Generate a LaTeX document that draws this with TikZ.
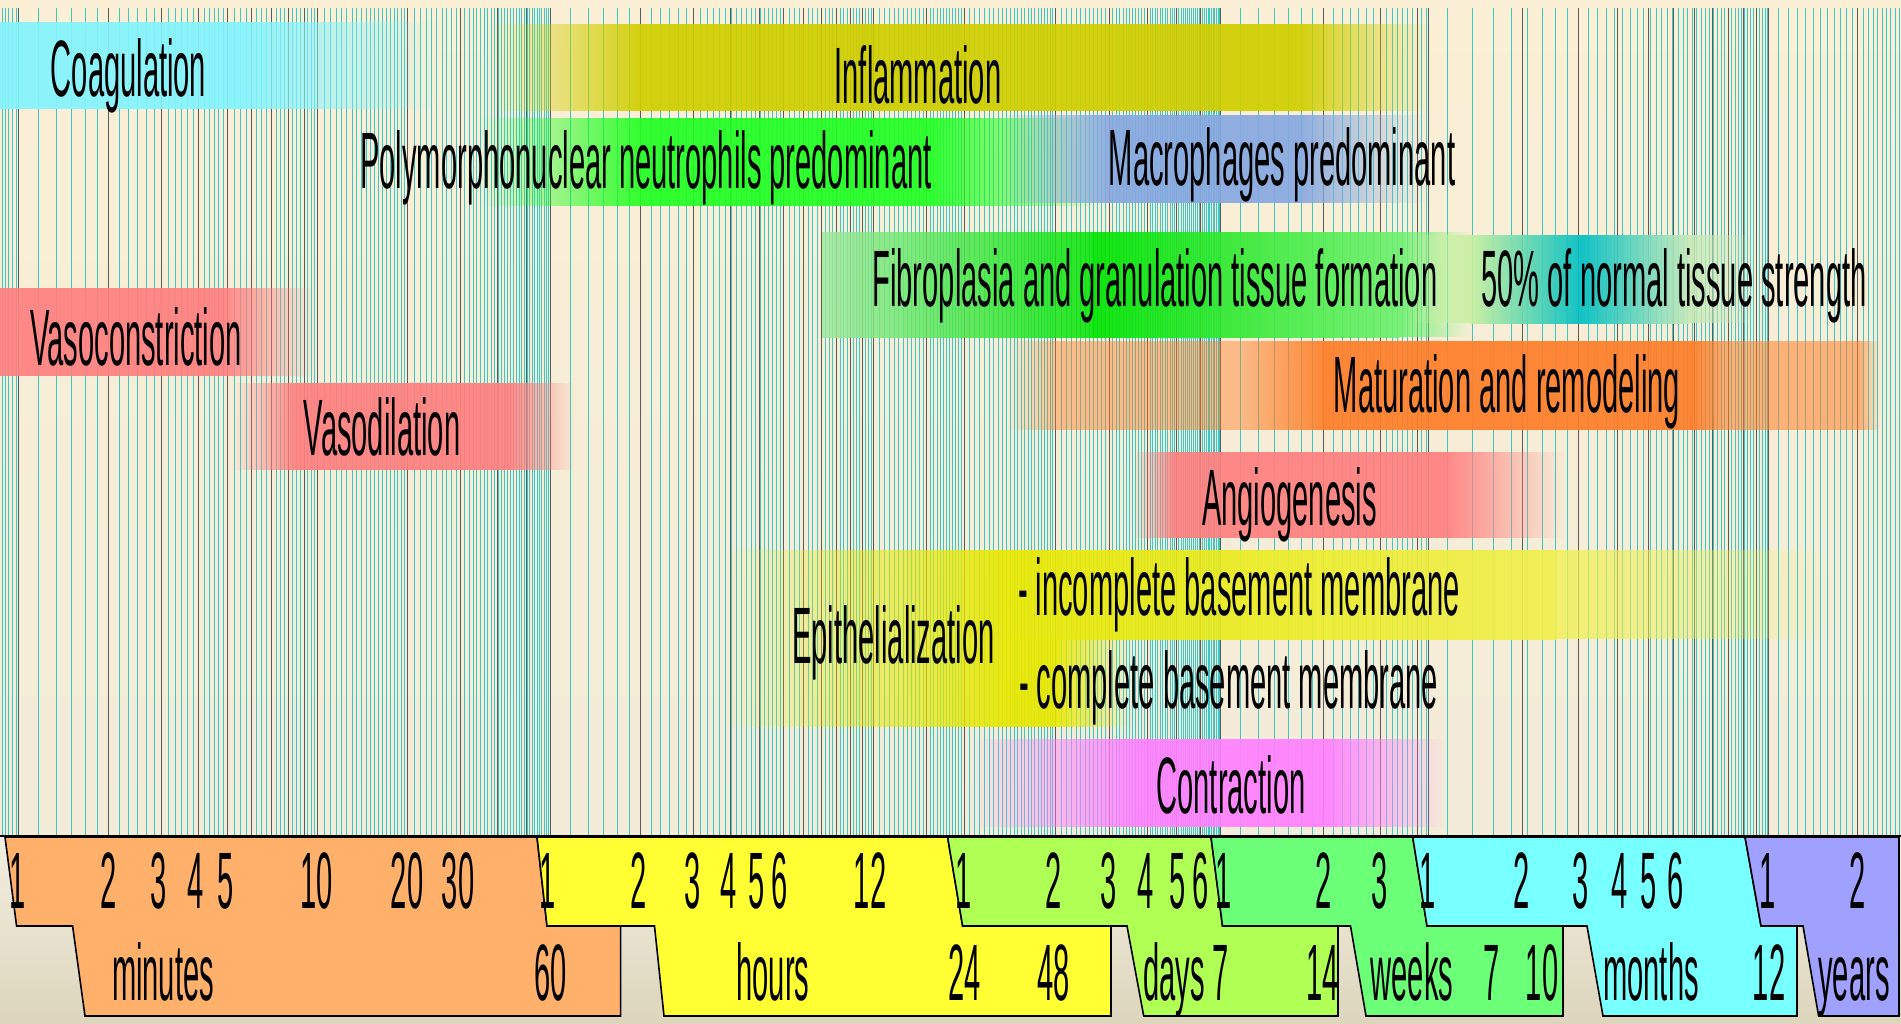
\documentclass[tikz,border=0pt]{standalone}
\usepackage{fontspec}
\setmainfont{Liberation Sans}
\usepackage{graphicx}
\usetikzlibrary{fadings}

\definecolor{bgTopA}{HTML}{FBEFD5}
\definecolor{bgTopB}{HTML}{F3ECD9}
\definecolor{bgBotA}{HTML}{F2EEE1}
\definecolor{bgBotB}{HTML}{DDD5BC}
\definecolor{gridCyan}{HTML}{3CC6C6}
\definecolor{gridDark}{HTML}{5A5A5A}
\definecolor{cCoag}{HTML}{84F4FF}
\definecolor{cInfl}{HTML}{D0CE00}
\definecolor{cPMN}{HTML}{22FF22}
\definecolor{cMac}{HTML}{86A8E0}
\definecolor{cFib}{HTML}{00E400}
\definecolor{cFibA}{HTML}{A0E8A0}
\definecolor{cFibB}{HTML}{70F070}
\definecolor{cFa}{HTML}{C8F0A0}
\definecolor{cFb}{HTML}{00BFC4}
\definecolor{cFc}{HTML}{C8EAB8}
\definecolor{cRed}{HTML}{FF8080}
\definecolor{cMat}{HTML}{FF7F2A}
\definecolor{cEpi}{HTML}{E8E800}
\definecolor{cEpiB}{HTML}{F0F050}
\definecolor{cCon}{HTML}{FF80FF}
\definecolor{uMin}{HTML}{FFB06A}
\definecolor{uHour}{HTML}{FFFF33}
\definecolor{uDay}{HTML}{B0FF55}
\definecolor{uWeek}{HTML}{6CFF78}
\definecolor{uMonth}{HTML}{78FFFF}
\definecolor{uYear}{HTML}{A0A0FF}

% linear fadings; a fitted fading maps the path onto its 25bp..75bp part
\pgfdeclarehorizontalshading{finshade}{100bp}{color(0bp)=(transparent!100); color(25bp)=(transparent!100); color(75bp)=(transparent!0); color(100bp)=(transparent!0)}
\pgfdeclarehorizontalshading{foutshade}{100bp}{color(0bp)=(transparent!0); color(25bp)=(transparent!0); color(75bp)=(transparent!100); color(100bp)=(transparent!100)}
\pgfdeclarefading{fin}{\pgfuseshading{finshade}}
\pgfdeclarefading{fout}{\pgfuseshading{foutshade}}

% x position from L = log10(time in minutes)
\pgfmathdeclarefunction{gx}{1}{%
  \begingroup
  \pgfmathsetmacro\Lv{#1}%
  \pgfmathparse{(\Lv<1.77815) ? (18.5+299.2*(\Lv)) : ((\Lv<3.15836) ? (550.5+299.6*(\Lv-1.77815)) : ((\Lv<4.00346) ? (964+304.1*(\Lv-3.15836)) : ((\Lv<4.30449) ? (1221+340.8*(\Lv-4.00346)) : ((\Lv<4.48058) ? (1323.6+320.3*(\Lv-4.30449)) : ((\Lv<4.64176) ? (1380+297.8*(\Lv-4.48058)) : ((\Lv<5.72096) ? (1428+315.05*(\Lv-4.64176)) : (1768+297.7*(\Lv-5.72096))))))))}%
  \pgfmathsmuggle\pgfmathresult
  \endgroup}

\newcommand\nt[1]{\scalebox{0.364}[1]{#1}}

\tikzset{
  lbl/.style={inner sep=0pt, outer sep=0pt, anchor=base, font=\fontsize{80}{96}\selectfont},
  cyanl/.style={draw=gridCyan, line width=0.55pt},
  darkl/.style={draw=gridDark, line width=1.0pt},
  bar/.style={fill opacity=0.92},
  unitshape/.style={draw=black, line width=1.6pt, line join=miter},
}

\newcommand\gline[2]{\pgfmathsetmacro\xv{gx(#1)}\draw[#2] (\xv,8) -- (\xv,836);}

\begin{document}
\begin{tikzpicture}[x=1pt,y=-1pt]
\useasboundingbox (0,0) rectangle (1901,1023);

% backgrounds
\shade[top color=bgTopA, bottom color=bgTopB] (0,0) rectangle (1901,836);
\shade[top color=bgBotA, bottom color=bgBotB] (0,836) rectangle (1901,1023);

% ---------- grid (log time scale) ----------
\foreach \xv in {2,5,8.3,12.4,16.6}{\draw[cyanl] (\xv,8) -- (\xv,836);}
\foreach \s in {70,80,...,290}{\gline{log10(\s)-1.77815}{cyanl}}
\foreach \s in {315,330,...,585}{\gline{log10(\s)-1.77815}{cyanl}}
\foreach \s in {630,660,...,1170}{\gline{log10(\s)-1.77815}{cyanl}}
\foreach \m in {21,...,59}{\gline{log10(\m)}{cyanl}}
\foreach \m in {70,80,...,350}{\gline{log10(\m)}{cyanl}}
\foreach \m in {375,390,...,705}{\gline{log10(\m)}{cyanl}}
\foreach \m in {750,780,...,1410}{\gline{log10(\m)}{cyanl}}
\foreach \h in {25,...,47}{\gline{log10(\h)+1.77815}{cyanl}}
\foreach \h in {50,52,...,166}{\gline{log10(\h)+1.77815}{cyanl}}
\foreach \d in {8,...,30}{\gline{log10(\d)+3.15836}{cyanl}}
\foreach \w in {5,...,52}{\gline{log10(\w)+4.00346}{cyanl}}
\foreach \mo in {13,...,34}{\gline{log10(\mo)+4.64176}{cyanl}}
% major lines
\foreach \m in {1,...,10,20,30,40,50}{\gline{log10(\m)}{darkl}}
\foreach \h in {1,...,12,18}{\gline{log10(\h)+1.77815}{darkl}}
\foreach \d in {1,...,7}{\gline{log10(\d)+3.15836}{darkl}}
\foreach \w in {2,3,4}{\gline{log10(\w)+4.00346}{darkl}}
\foreach \mo in {1,...,12}{\gline{log10(\mo)+4.64176}{darkl}}
\gline{0.30103+5.72096}{darkl}

% ---------- phase bars ----------
% Coagulation
\fill[cCoag, bar] (0,22) rectangle (245,109);
\fill[cCoag, bar, path fading=fout] (245,22) rectangle (440,109);
% Inflammation
\fill[cInfl, bar, path fading=fin] (490,24) rectangle (640,111);
\fill[cInfl, bar] (640,24) rectangle (1300,111);
\fill[cInfl, bar, path fading=fout] (1300,24) rectangle (1430,111);
% PMN
\fill[cPMN, bar, path fading=fin] (480,118) rectangle (640,206);
\fill[cPMN, bar] (640,118) rectangle (930,206);
\fill[cPMN, bar, path fading=fout] (930,118) rectangle (1100,206);
% Macrophages
\fill[cMac, bar, path fading=fin] (1000,115) rectangle (1110,203);
\fill[cMac, bar] (1110,115) rectangle (1300,203);
\fill[cMac, bar, path fading=fout] (1300,115) rectangle (1425,203);
% Fibroplasia
\shade[left color=cFibA, right color=cFib, fill opacity=0.85] (822,232) rectangle (1092,337);
\shade[left color=cFib, right color=cFibB, bar] (1092,232) rectangle (1400,337);
\fill[cFibB, bar, path fading=fout] (1400,232) rectangle (1470,337);
% 50% strength
\fill[cFa, bar, path fading=fin] (1410,235) rectangle (1470,323);
\shade[left color=cFa, right color=cFb, bar] (1470,235) rectangle (1581,323);
\shade[left color=cFb, right color=cFc, bar] (1581,235) rectangle (1690,323);
\fill[cFc, bar, path fading=fout] (1690,235) rectangle (1755,323);
% Vasoconstriction
\fill[cRed, bar] (0,288) rectangle (224,376);
\fill[cRed, bar, path fading=fout] (224,288) rectangle (315,376);
% Maturation
\fill[cMat, fill opacity=0.45, path fading=fin] (1006,341) rectangle (1060,430);
\fill[cMat, fill opacity=0.45] (1060,341) rectangle (1330,430);
\fill[cMat, bar, path fading=fin] (1240,341) rectangle (1330,430);
\fill[cMat, bar] (1330,341) rectangle (1690,430);
\fill[cMat, fill opacity=0.55] (1690,341) rectangle (1860,430);
\fill[cMat, bar, path fading=fout] (1690,341) rectangle (1730,430);
\fill[cMat, fill opacity=0.55, path fading=fout] (1860,341) rectangle (1880,430);
% Vasodilation
\fill[cRed, bar, path fading=fin] (232,383) rectangle (295,470);
\fill[cRed, bar] (295,383) rectangle (510,470);
\fill[cRed, bar, path fading=fout] (510,383) rectangle (575,470);
% Angiogenesis
\fill[cRed, bar, path fading=fin] (1133,452) rectangle (1175,538);
\fill[cRed, bar] (1175,452) rectangle (1446,538);
\fill[cRed, bar, path fading=fout] (1446,452) rectangle (1565,538);
% Epithelialization
\fill[cEpi, bar, path fading=fin] (723,550) rectangle (1005,727);
\fill[cEpi, bar] (1005,639) rectangle (1054,727);
\fill[cEpi, bar, path fading=fout] (1054,639) rectangle (1130,727);
\shade[left color=cEpi, right color=cEpiB, bar] (1005,550) rectangle (1557,639);
\fill[cEpiB, fill opacity=0.8, path fading=fout] (1557,550) rectangle (1830,639);
% Contraction
\fill[cCon, bar, path fading=fin] (970,739) rectangle (1137,827);
\fill[cCon, bar] (1137,739) rectangle (1327,827);
\fill[cCon, bar, path fading=fout] (1327,739) rectangle (1446,827);

% ---------- bar labels ----------
\node[lbl] (tcoag) at (128.5,96) {\nt{Coagulation}};
\node[lbl] (tinfl) at (918,103) {\nt{Inflammation}};
\node[lbl] (tpmn) at (646,188) {\nt{Polymorphonuclear neutrophils predominant}};
\node[lbl] (tmac) at (1282,185) {\nt{Macrophages predominant}};
\node[lbl] (tfib) at (1155,306) {\nt{Fibroplasia and granulation tissue formation}};
\node[lbl] (tfifty) at (1674,306) {\nt{50\% of normal tissue strength}};
\node[lbl] (tvc) at (136,365) {\nt{Vasoconstriction}};
\node[lbl] (tmat) at (1507,412) {\nt{Maturation and remodeling}};
\node[lbl] (tvd) at (382,455) {\nt{Vasodilation}};
\node[lbl] (tang) at (1289.5,525) {\nt{Angiogenesis}};
\node[lbl] (tepi) at (893.5,663) {\nt{Epithelialization}};
\node[lbl, anchor=base west] (tinc) at (1018,615) {\nt{- incomplete basement membrane}};
\node[lbl, anchor=base west] (tcom) at (1019,708) {\nt{- complete basement membrane}};
\node[lbl] (tcon) at (1231,813) {\nt{Contraction}};

% ---------- time scale ----------
\draw[line width=2.4pt] (0,836) -- (1901,836);
\draw[unitshape, fill=uMin] (5,837) -- (16.6,926) -- (72.6,926) -- (85,1016) -- (620.6,1016) -- (620.6,926) -- (547,926) -- (537,837) -- cycle;
\draw[unitshape, fill=uHour] (537,837) -- (547,926) -- (654.5,926) -- (664,1016) -- (1111,1016) -- (1111,926) -- (962.6,926) -- (947.6,837) -- cycle;
\draw[unitshape, fill=uDay] (947.6,837) -- (962.6,926) -- (1127,926) -- (1143.7,1016) -- (1338,1016) -- (1338,926) -- (1222.5,926) -- (1211,837) -- cycle;
\draw[unitshape, fill=uWeek] (1211,837) -- (1222.5,926) -- (1350.5,926) -- (1366,1016) -- (1563,1016) -- (1563,926) -- (1427,926) -- (1412.7,837) -- cycle;
\draw[unitshape, fill=uMonth] (1412.7,837) -- (1427,926) -- (1587,926) -- (1603,1016) -- (1797,1016) -- (1797,926) -- (1761,926) -- (1745,837) -- cycle;
\draw[unitshape, fill=uYear] (1745,837) -- (1761,926) -- (1803,926) -- (1818.6,1016) -- (1899,1016) -- (1899,837) -- cycle;

\foreach \xx/\lab [count=\i] in {17.6/1, 109/2, 158.7/3, 196/4, 226/5, 317/10, 407/20, 458/30,
  548/1, 639/2, 692.4/3, 728.6/4, 757/5, 780/6, 870/12,
  964/1, 1054/2, 1109/3, 1146/4, 1178/5, 1201/6,
  1223.6/1, 1324/2, 1380/3,
  1427.6/1, 1521.6/2, 1580.6/3, 1620/4, 1649/5, 1675.6/6,
  1767.6/1, 1857.6/2}
  {\node[lbl] (top\i) at (\xx,908) {\nt{\lab}};}

\foreach \xx/\lab [count=\i] in {163/minutes, 550.5/60, 773/hours, 964.6/24, 1053.6/48,
  1174/days, 1220.6/7, 1322.5/14, 1412/weeks, 1492/7, 1542/10,
  1651/months, 1769/12, 1854/years}
  {\node[lbl] (bot\i) at (\xx,1000) {\nt{\lab}};}
\end{tikzpicture}
\end{document}
